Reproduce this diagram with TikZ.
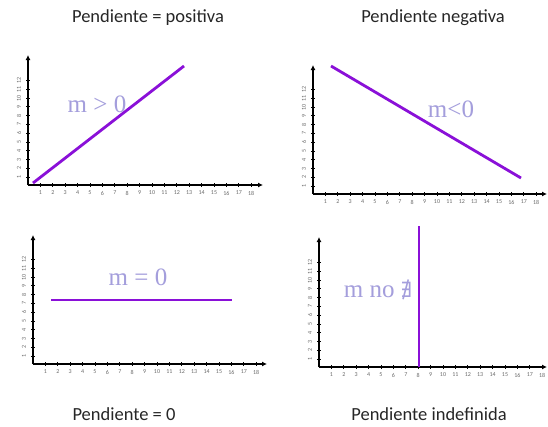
\documentclass[tikz,border=0pt]{standalone}
\usepackage{fontspec}
\setmainfont{Carlito}
\newfontfamily\serifl{Liberation Serif}
\newfontfamily\symf{DejaVu Serif}
\usetikzlibrary{arrows.meta,calc}
\definecolor{lineP}{HTML}{8A10D8}
\definecolor{labP}{HTML}{A49EDC}
\definecolor{tickG}{HTML}{6A6A6A}
\tikzset{
  axis/.style={line width=1.8pt, -{Latex[length=5pt,width=5pt]}},
  slope/.style={line width=2.8pt, lineP},
  title/.style={font=\fontsize{18.5}{20}\selectfont, text=black!85},
  mlab/.style={font=\serifl\fontsize{25}{27}\selectfont, text=labP},
  tickl/.style={font=\fontsize{6}{6}\selectfont, text=tickG, inner sep=0pt},
}
\newcommand\myaxes[5]{% name, x0, y0, ytop, xend
  \coordinate (#1o) at (#2,#3);
  \coordinate (#1t) at (#2,#4);
  \coordinate (#1e) at (#5,#3);
  \draw[axis] (#1o) -- (#1t);
  \draw[axis] (#1o) -- (#1e);
  \foreach \i in {1,...,18}{
    \draw[line width=0.8pt] ($(#1o)+(12.4*\i,-1.8)$) -- ++(0,3.6);
    \node[tickl] (#1x\i) at ($(#1o)+(12.4*\i,8)$) {\i};
  }
  \foreach \i in {1,...,12}{
    \draw[line width=0.8pt] ($(#1o)+(-1.8,-8.8*\i+1)$) -- ++(3.6,0);
    \node[tickl, rotate=90] (#1y\i) at ($(#1o)+(-9,-8.8*\i+1)$) {\i};
  }
}
\begin{document}
\begin{tikzpicture}[x=1pt,y=-1pt]
\useasboundingbox (0,0) rectangle (548,426);
\fill[white] (0,0) rectangle (548,426);
% titles
\node[title] (t1) at (148,18) {Pendiente = positiva};
\node[title] (t2) at (433,18) {Pendiente negativa};
\node[title] (t3) at (124,414) {Pendiente = 0};
\node[title] (t4) at (429,414) {Pendiente indefinida};
% panel 1
\myaxes{a}{28}{185}{55}{263}
\coordinate (a1) at (33,183);
\coordinate (a2) at (184,66);
\draw[slope] (a1) -- (a2);
\node[mlab] (la) at (97,104) {m > 0};
% panel 2
\myaxes{b}{313}{194}{65}{547}
\coordinate (b1) at (331,66);
\coordinate (b2) at (521,178);
\draw[slope] (b1) -- (b2);
\node[mlab] (lb) at (451,109) {m<0};
% panel 3
\myaxes{c}{33}{364}{235}{267}
\coordinate (c1) at (51,300);
\coordinate (c2) at (232,300);
\draw[slope] (c1) -- (c2);
\node[mlab] (lc) at (138,277) {m = 0};
% panel 4
\myaxes{d}{319}{367}{237}{547}
\coordinate (d1) at (419,226);
\coordinate (d2) at (419,367);
\draw[slope] (d1) -- (d2);
\node[mlab] (ld) at (378,290) {m no {\symf\fontsize{21}{23}\selectfont ∄}};
\end{tikzpicture}
\end{document}
